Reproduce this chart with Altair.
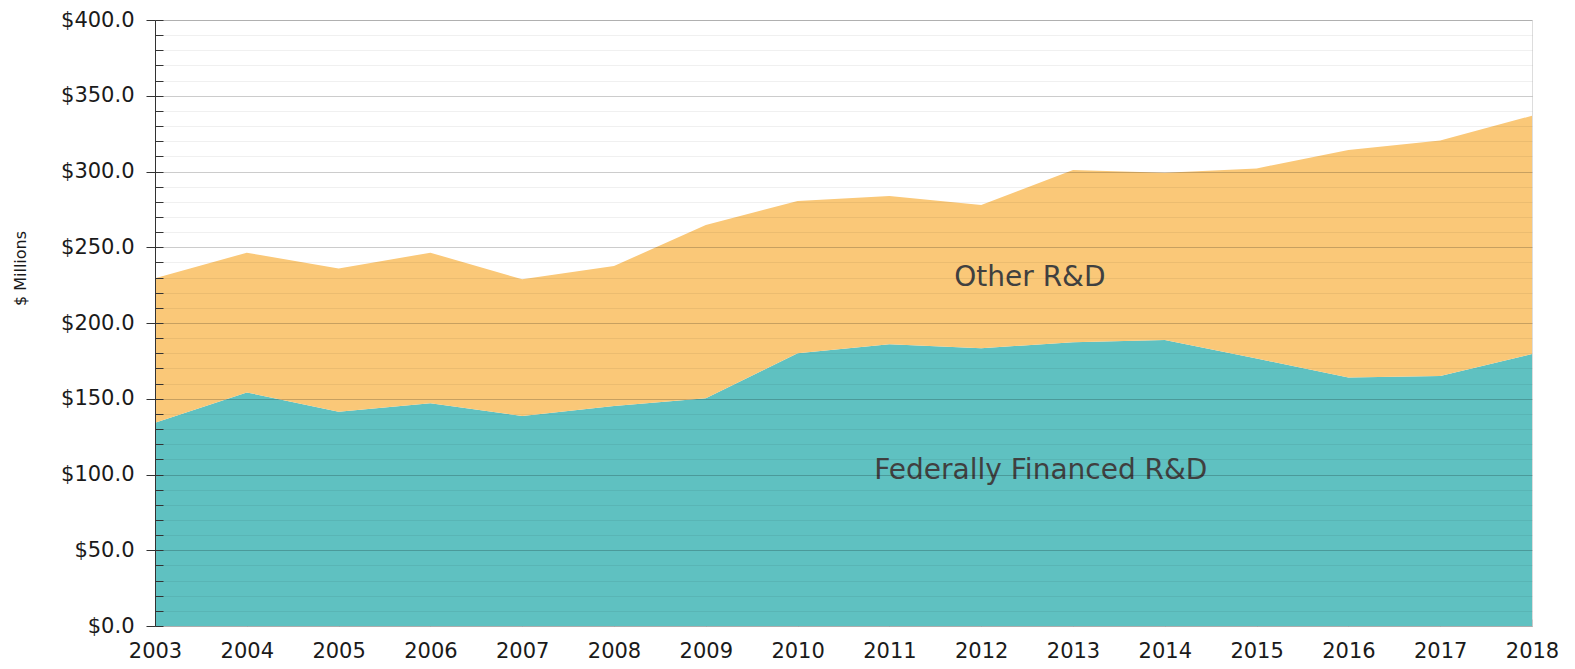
import altair as alt
import pandas as pd

years = list(range(2003, 2019))
federal = [134.2, 154.2, 141.5, 147.0, 138.6, 145.2, 150.3, 180.0, 186.0, 183.3, 187.3, 188.8, 176.5, 164.1, 165.0, 179.5]
other = [95.3, 92.2, 94.5, 99.4, 90.2, 92.4, 114.4, 100.5, 97.8, 94.6, 113.7, 110.4, 125.5, 150.1, 155.4, 157.3]
series_names = ["Federally Financed R&D", "Other R&D"]
series_colors = ["#5FC1C1", "#FAC878"]

label_text = ["Other R&D", "Federally Financed R&D"]
label_x = [2012.53, 2012.65]
label_y = [230.0, 102.0]

rows = []
for i, y in enumerate(years):
    rows.append({"year": y, "series": series_names[0], "value": federal[i]})
    rows.append({"year": y, "series": series_names[1], "value": other[i]})
df = pd.DataFrame(rows)
lab = pd.DataFrame({"text": label_text, "x": label_x, "y": label_y})

FONT = "DejaVu Sans"
W, H = 1377, 606
xdom = [2003, 2018]
ydom = [0, 400]

area = alt.Chart(df).mark_area(opacity=1).encode(
    x=alt.X("year:Q", scale=alt.Scale(domain=xdom, nice=False, zero=False),
            axis=alt.Axis(values=years, format="d", title=None, ticks=False, grid=False,
                          domainColor="#d9d9d9", labelFont=FONT, labelFontSize=21,
                          labelColor="#1a1a1a", labelPadding=14, labelFlush=False)),
    y=alt.Y("value:Q", stack="zero", scale=alt.Scale(domain=ydom, nice=False),
            axis=alt.Axis(values=list(range(0, 401, 50)),
                          labelExpr="'$' + format(datum.value, '.1f')",
                          title="$ Millions", titleFont=FONT, titleFontSize=16,
                          titleFontWeight="normal", titleColor="#1a1a1a",
                          titleX=-135, titleY=248, titleAngle=270,
                          titleAlign="center", titleBaseline="middle",
                          tickSize=9, tickColor="#333", domainColor="#333",
                          labelFont=FONT, labelFontSize=21, labelColor="#1a1a1a",
                          labelPadding=12, grid=True, gridColor="#000",
                          gridOpacity=0.15, zindex=1)),
    color=alt.Color("series:N", scale=alt.Scale(domain=series_names, range=series_colors), legend=None),
    order=alt.Order("series:N", sort="ascending"),
)

minor = alt.Chart(df).mark_point(opacity=0).encode(
    x=alt.X("year:Q", scale=alt.Scale(domain=xdom, nice=False, zero=False),
            axis=alt.Axis(orient="top", offset=-H, values=years, labels=False, domain=False,
                          ticks=True, tickSize=7, tickColor="#c8c8c8", grid=False, title=None)),
    y=alt.Y("value:Q", scale=alt.Scale(domain=ydom, nice=False),
            axis=alt.Axis(orient="right", offset=-W, values=list(range(0, 401, 10)),
                          labels=False, domain=False, ticks=True, tickSize=8,
                          tickColor="#333", grid=True, gridColor="#000",
                          gridOpacity=0.06, title=None, zindex=1)),
)

text = alt.Chart(lab).mark_text(font=FONT, fontSize=28, color="#404040", align="center",
                                 baseline="middle").encode(
    x=alt.X("x:Q", scale=alt.Scale(domain=xdom, nice=False, zero=False), axis=None),
    y=alt.Y("y:Q", scale=alt.Scale(domain=ydom, nice=False), axis=None),
    text="text:N",
)

chart = alt.layer(area, minor, text).resolve_scale(x="independent", y="independent").properties(
    width=W, height=H,
    autosize=alt.AutoSizeParams(type="none"),
    padding={"left": 147, "top": 12, "right": 35, "bottom": 37},
).configure_view(stroke=None).configure(background="white")

chart.save("out.html", embed_options={"renderer": "svg", "actions": False})
